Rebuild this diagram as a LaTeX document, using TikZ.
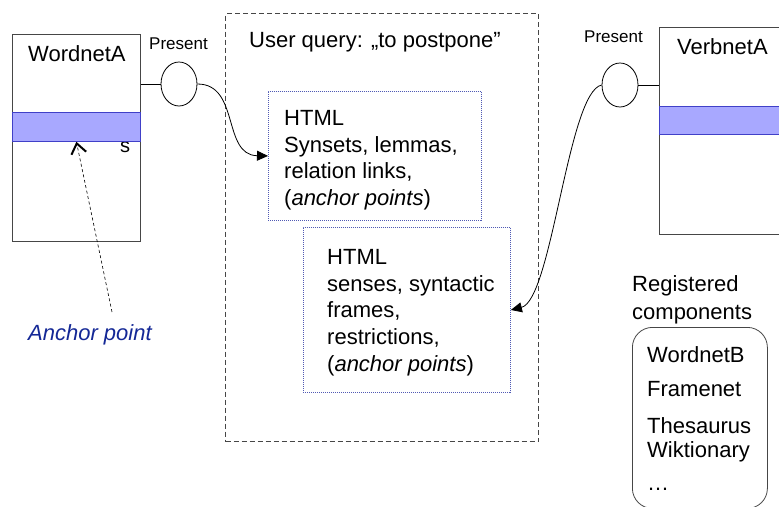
\documentclass[tikz,border=0pt]{standalone}
\usepackage{fontspec}
\setmainfont{Liberation Sans}
\usetikzlibrary{shapes.geometric,arrows.meta}
\definecolor{bandfill}{RGB}{168,168,255}
\definecolor{bandline}{RGB}{64,64,200}
\definecolor{htmlline}{RGB}{80,90,180}
\definecolor{anchorblue}{RGB}{20,40,150}
\definecolor{boxline}{RGB}{70,70,70}
\begin{document}
\begin{tikzpicture}[x=1pt,y=-1pt,
    lbl/.style={inner sep=0pt,font=\fontsize{22}{26.6}\selectfont},
    small/.style={inner sep=0pt,font=\fontsize{17}{20}\selectfont},
    comp/.style={draw=boxline,line width=0.8pt},
    band/.style={draw=bandline,fill=bandfill,line width=0.8pt},
    port/.style={ellipse,draw=black,line width=0.8pt,minimum width=36pt,minimum height=44pt,inner sep=0pt},
    htmlbox/.style={draw=htmlline,dash pattern=on 1pt off 1pt,line width=0.9pt},
    link/.style={line width=0.8pt,-{Triangle[length=11pt,width=10pt]}}]
	\useasboundingbox (0,0) rectangle (779,506);
	\clip (0,0) rectangle (779,506);
	% WordnetA component
	\node[comp,minimum width=128pt,minimum height=207pt,anchor=north west] (wna) at (12,34) {};
	\node[lbl,anchor=base west] (wnatitle) at (28,61) {WordnetA};
	\node[inner sep=0pt,font=\fontsize{20}{20}\selectfont,anchor=base west] (wnas) at (120,152) {s};
	\node[band,minimum width=128pt,minimum height=29pt,anchor=north west] (wnaband) at (12,112) {};
	\node[port] (wnaport) at (179,84) {};
	\node[small,anchor=base west] (wnapresent) at (149,49) {Present};
	\draw[line width=0.8pt] (wna.east |- wnaport.west) -- (wnaport.west);
	% anchor point hint
	\node[inner sep=0pt,font=\fontsize{22}{26}\selectfont\itshape,text=anchorblue,anchor=base west] (anchorlbl) at (28,340) {Anchor point};
	\coordinate (anchortail) at (112,312);
	\draw[line width=0.6pt,dash pattern=on 3pt off 2.5pt,-{Straight Barb[length=10pt,width=15pt,line width=2pt]}] (anchortail) -- (wnaband.south);
	% user query
	\node[draw=boxline,dash pattern=on 5pt off 3pt,line width=1.2pt,minimum width=313pt,minimum height=428pt,anchor=north west] (query) at (225,13) {};
	\node[lbl,anchor=base west] (querytitle) at (249,47) {User query: „to postpone”};
	\node[htmlbox,minimum width=213pt,minimum height=129pt,anchor=north west] (html1) at (268,91) {};
	\node[lbl,align=left,anchor=north west] (html1txt) at (284,110.3) {HTML\\Synsets, lemmas,\\relation links,\\(\textit{anchor points})};
	\node[htmlbox,minimum width=207pt,minimum height=165pt,anchor=north west] (html2) at (303,227) {};
	\node[lbl,align=left,anchor=north west] (html2txt) at (327,249.3) {HTML\\senses, syntactic\\frames,\\restrictions,\\(\textit{anchor points})};
	% VerbnetA component
	\node[comp,minimum width=140pt,minimum height=207pt,anchor=north west] (vna) at (659,27) {};
	\node[lbl,anchor=base west] (vnatitle) at (677,54) {VerbnetA};
	\node[band,minimum width=140pt,minimum height=28pt,anchor=north west] (vnaband) at (659,106) {};
	\node[port] (vnaport) at (620,85) {};
	\node[small,anchor=base west] (vnapresent) at (584,42) {Present};
	\draw[line width=0.8pt] (vnaport.east) -- (vna.west |- vnaport.east);
	% links
	\draw[link] (wnaport.east) .. controls (240,84) and (222,155) .. (html1.west);
	\draw[link] (vnaport.west) .. controls (568,92) and (552,300) .. (html2.east);
	% registered components
	\node[lbl,align=left,anchor=north west,font=\fontsize{22}{27.5}\selectfont] (regtitle) at (632,275.5) {Registered\\components};
	\node[comp,rounded corners=20pt,minimum width=135pt,minimum height=181pt,anchor=north west] (reglist) at (632,327) {};
	\node[lbl,align=left,anchor=north west] (regitems) at (647,346) {WordnetB\\[7.4pt]Framenet\\[10.4pt]Thesaurus\\[-2.6pt]Wiktionary\\[6.4pt]…};
\end{tikzpicture}
\end{document}
